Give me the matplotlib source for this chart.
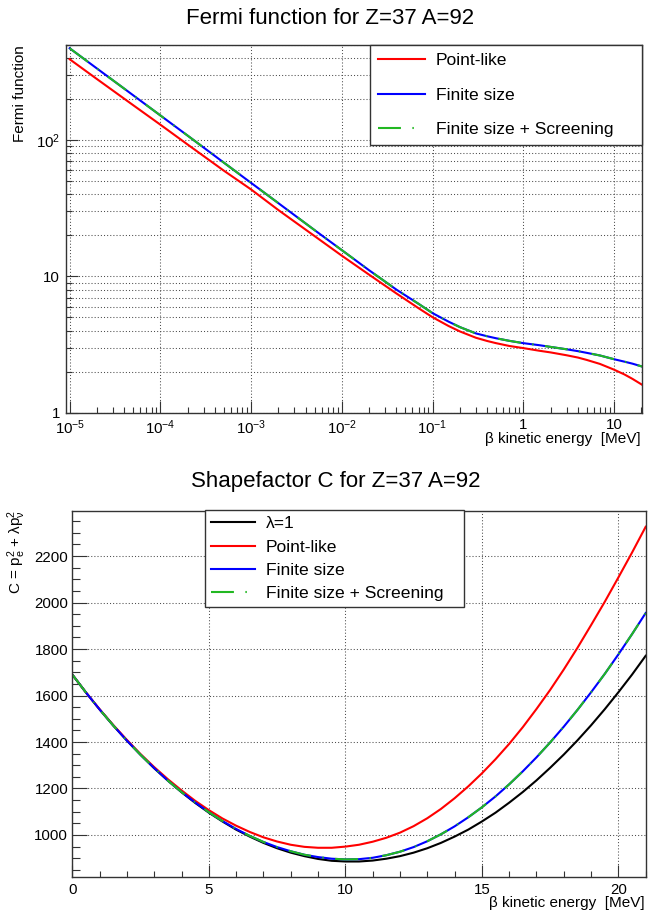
import math
import matplotlib
matplotlib.use("Agg")
import matplotlib.pyplot as plt
from matplotlib.ticker import LogLocator, MultipleLocator, FuncFormatter, NullFormatter

plt.rcParams['font.family'] = ['Liberation Sans', 'DejaVu Sans']
plt.rcParams['mathtext.fontset'] = 'custom'
plt.rcParams['mathtext.rm'] = 'Liberation Sans'
plt.rcParams['mathtext.it'] = 'Liberation Sans:italic'

# Fermi function (top panel), energies in MeV
fermi_energy = [1e-5, 2e-5, 5e-5, 1e-4, 2e-4, 5e-4, 1e-3, 2e-3, 5e-3, 1e-2,
                0.02, 0.04, 0.07, 0.1, 0.15, 0.2, 0.3, 0.4, 0.5, 0.7,
                1, 1.5, 2, 3, 4, 5, 7, 10, 13, 16, 20.5]
fermi_point = [393, 281, 181, 130, 92.9, 59.8, 43.5, 30.7, 19.8, 14.2,
               10.3, 7.5, 5.85, 5.02, 4.33, 3.95, 3.55, 3.36, 3.24, 3.09,
               2.98, 2.85, 2.77, 2.64, 2.54, 2.44, 2.28, 2.07, 1.91, 1.77, 1.60]
fermi_finite = [473, 336, 214, 152, 108, 68.5, 48.6, 34.5, 21.9, 15.6,
                11.1, 8.0, 6.3, 5.38, 4.66, 4.25, 3.82, 3.64, 3.52, 3.37,
                3.24, 3.13, 3.04, 2.92, 2.83, 2.75, 2.63, 2.47, 2.37, 2.29, 2.18]
fermi_screen = [473, 336, 214, 152, 108, 68.5, 48.6, 34.5, 21.9, 15.6,
                11.1, 8.0, 6.3, 5.38, 4.66, 4.25, 3.82, 3.64, 3.52, 3.37,
                3.24, 3.13, 3.04, 2.92, 2.83, 2.75, 2.63, 2.47, 2.37, 2.29, 2.18]

# Shape factor (bottom panel), energies in MeV
shape_energy = [0, 0.5, 1, 1.5, 2, 2.5, 3, 3.5, 4, 4.5, 5, 5.5, 6, 6.5, 7, 7.5,
                8, 8.5, 9, 9.5, 10, 10.5, 11, 11.5, 12, 12.5, 13, 13.5, 14, 14.5,
                15, 15.5, 16, 16.5, 17, 17.5, 18, 18.5, 19, 19.5, 20, 20.5, 21]
shape_lambda1 = [1690, 1613, 1540, 1471, 1406, 1345, 1287, 1234, 1184, 1138,
                 1096, 1058, 1023, 993, 966, 943, 924, 909, 897, 889, 886, 886,
                 890, 898, 909, 924, 943, 966, 993, 1023, 1058, 1096, 1139,
                 1185, 1235, 1289, 1346, 1407, 1472, 1541, 1614, 1690, 1771]
shape_point = [1690, 1613, 1541, 1473, 1409, 1348, 1292, 1240, 1192, 1147,
               1107, 1071, 1040, 1013, 990, 972, 958, 949, 945, 945, 950, 958,
               971, 988, 1010, 1038, 1072, 1112, 1158, 1209, 1265, 1326, 1392,
               1464, 1542, 1624, 1712, 1805, 1903, 2003, 2108, 2215, 2326]
shape_finite = [1690, 1613, 1540, 1471, 1406, 1345, 1288, 1234, 1185, 1140,
                1098, 1060, 1026, 996, 970, 948, 930, 915, 905, 898, 895, 896,
                902, 913, 928, 948, 973, 1003, 1037, 1076, 1119, 1166, 1218,
                1274, 1334, 1398, 1466, 1538, 1614, 1693, 1777, 1864, 1955]
shape_screen = [1690, 1613, 1540, 1471, 1406, 1345, 1288, 1234, 1185, 1140,
                1098, 1060, 1026, 996, 970, 948, 930, 915, 905, 898, 895, 896,
                902, 913, 928, 948, 973, 1003, 1037, 1076, 1119, 1166, 1218,
                1274, 1334, 1398, 1466, 1538, 1614, 1693, 1777, 1864, 1955]

RED = '#ff0000'
BLUE = '#0000ff'
GREEN = '#22b822'
GRID = dict(color='#4d4d4d', linestyle=(0, (1, 2)), linewidth=0.75)
LW = 1.5
GREEN_LS = (0, (11, 5.5, 0.7, 5.5))
W, H = 660.0, 915.0

fig = plt.figure(figsize=(6.6, 9.15), dpi=100)

# ---------- top panel ----------
ax1 = fig.add_axes([65.7 / W, 1 - 412.7 / H, (642.3 - 65.7) / W, (412.7 - 45) / H])
ax1.set_xscale('log')
ax1.set_yscale('log')
ax1.plot(fermi_energy, fermi_point, color=RED, lw=LW, label='Point-like')
ax1.plot(fermi_energy, fermi_finite, color=BLUE, lw=LW, label='Finite size')
ax1.plot(fermi_energy, fermi_screen, color=GREEN, lw=LW, ls=GREEN_LS,
         label='Finite size + Screening')
ax1.set_xlim(9.04e-6, 20.5)
ax1.set_ylim(1, 500)

ax1.xaxis.set_major_locator(LogLocator(base=10, numticks=20))
ax1.xaxis.set_minor_locator(LogLocator(base=10, subs=range(2, 10), numticks=20))
ax1.yaxis.set_major_locator(LogLocator(base=10, numticks=20))
ax1.yaxis.set_minor_locator(LogLocator(base=10, subs=range(2, 10), numticks=20))


def log_label(v, pos):
    if abs(v - 1) < 1e-9:
        return '1'
    if abs(v - 10) < 1e-9:
        return '10'
    return r'$10^{%d}$' % int(round(math.log10(v)))


ax1.xaxis.set_major_formatter(FuncFormatter(log_label))
ax1.yaxis.set_major_formatter(FuncFormatter(log_label))
ax1.xaxis.set_minor_formatter(NullFormatter())
ax1.yaxis.set_minor_formatter(NullFormatter())
ax1.grid(True, which='major', axis='x', **GRID)
ax1.grid(True, which='both', axis='y', **GRID)
ax1.tick_params(which='both', direction='in', top=False, right=False,
                labelsize=10.8, color='#333333', width=0.8)
ax1.tick_params(which='major', length=8.6, pad=4)
ax1.tick_params(which='minor', length=4.3)

leg1 = ax1.legend(loc='upper left', mode='expand', borderaxespad=0,
                  bbox_to_anchor=(369.7 / W, 1 - 145 / H, 272.3 / W, 100 / H),
                  bbox_transform=fig.transFigure, fontsize=12.6,
                  fancybox=False, framealpha=1, edgecolor='#333333',
                  handlelength=2.7, handletextpad=0.63, labelspacing=1.1,
                  borderpad=0.45)
leg1.get_frame().set_linewidth(1.0)

fig.text(330.5 / W, 1 - 18 / H, 'Fermi function for Z=37 A=92', fontsize=16,
         ha='center', va='center')
fig.text(20.5 / W, 1 - 45 / H, 'Fermi function', fontsize=11, rotation=90,
         ha='center', va='top')
fig.text(641 / W, 1 - 439 / H, 'β kinetic energy  [MeV]', fontsize=11,
         ha='right', va='center')

# ---------- bottom panel ----------
ax2 = fig.add_axes([72.3 / W, 1 - 877.3 / H, (645.7 - 72.3) / W, (877.3 - 510.7) / H])
ax2.plot(shape_energy, shape_lambda1, color='black', lw=LW, label='λ=1')
ax2.plot(shape_energy, shape_point, color=RED, lw=LW, label='Point-like')
ax2.plot(shape_energy, shape_finite, color=BLUE, lw=LW, label='Finite size')
ax2.plot(shape_energy, shape_screen, color=GREEN, lw=LW, ls=GREEN_LS,
         label='Finite size + Screening')
ax2.set_xlim(0, 21)
ax2.set_ylim(818, 2395)
ax2.xaxis.set_major_locator(MultipleLocator(5))
ax2.xaxis.set_minor_locator(MultipleLocator(1))
ax2.yaxis.set_major_locator(MultipleLocator(200))
ax2.yaxis.set_minor_locator(MultipleLocator(50))
ax2.grid(True, which='major', **GRID)
ax2.tick_params(which='both', direction='in', top=False, right=False,
                labelsize=10.8, color='#333333', width=0.8)
ax2.tick_params(axis='y', which='major', length=10.8, pad=3)
ax2.tick_params(axis='y', which='minor', length=5.8)
ax2.tick_params(axis='x', which='major', length=8.6, pad=4)
ax2.tick_params(axis='x', which='minor', length=4.3)

leg2 = ax2.legend(loc='upper left', mode='expand', borderaxespad=0,
                  bbox_to_anchor=(204.7 / W, 1 - 606 / H, 259.3 / W, 96 / H),
                  bbox_transform=fig.transFigure, fontsize=12.6,
                  fancybox=False, framealpha=1, edgecolor='#333333',
                  handlelength=2.5, handletextpad=0.63, labelspacing=0.46,
                  borderpad=0.35)
leg2.get_frame().set_linewidth(1.0)

fig.text(335.5 / W, 1 - 481 / H, 'Shapefactor C for Z=37 A=92', fontsize=16,
         ha='center', va='center')
fig.text(17 / W, 1 - 510 / H,
         r'C = p$_{\mathrm{e}}^{2}$ + λp$_{\mathrm{ν}}^{2}$',
         fontsize=11, rotation=90, ha='center', va='top')
fig.text(645 / W, 1 - 903 / H, 'β kinetic energy  [MeV]', fontsize=11,
         ha='right', va='center')

for ax in (ax1, ax2):
    for s in ax.spines.values():
        s.set_color('#333333')
        s.set_linewidth(1.0)

fig.savefig('out.png', dpi=100)
